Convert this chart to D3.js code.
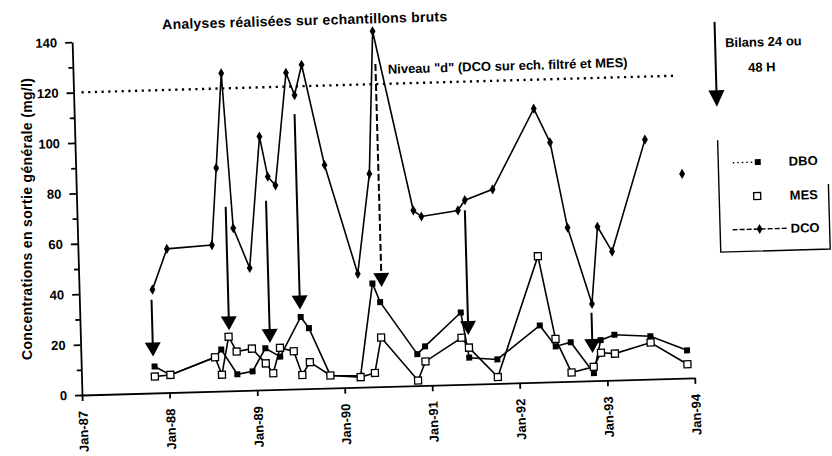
<!DOCTYPE html>
<html>
<head>
<meta charset="utf-8">
<script src="https://cdn.jsdelivr.net/npm/d3@7"></script>
<style>
    body { margin: 0; background: #fff; }
    svg text { font-family: "Liberation Sans", Arial, sans-serif; font-weight: bold; fill: #000; font-size: 13px; }
</style>
</head>
<body>
<div id="chart"></div>
<script>

// sampling campaigns (shared by the three series)
var sampleDates = ["1987-11-03", "1988-01-07", "1988-07-13", "1988-08-09", "1988-09-10", "1988-10-12",
    "1988-12-15", "1989-02-09", "1989-03-11", "1989-04-11", "1989-06-07", "1989-07-10", "1989-08-12",
    "1989-11-04", "1990-03-10", "1990-05-09", "1990-06-08", "1990-11-04", "1990-12-07", "1991-05-09",
    "1991-06-08", "1991-10-03", "1992-04-01", "1992-06-04", "1992-08-06", "1992-11-07", "1992-12-09",
    "1993-02-05", "1993-07-05", "1993-12-03"];

var dbo = [10.5, 7, 13.5, 16.5, null, 6.5, 7.5, 16.5, null, 13, null, 28.5, 24, 5, 4.5, 41, 33.5,
    12.5, 15.5, 28.5, 10.5, 9.5, 22.5, 14, 15.5, 3, 16, 18, 17, 11];
var mes = [6.5, 7, 13.5, 6.5, 21.5, 15.5, 16.5, 10.5, 6.5, 16.5, 15, 5.5, 10.5, 5, 4, 5.5, 19.5,
    2, 9.5, 18.5, 14.5, 2.5, 50, 17, 3.5, 5.5, 11, 10.5, 14.5, 5.5];
var dco = [41, 57, 58, 88.5, 126, 64.5, 48.5, 100.5, 84.5, 81, 125.5, 116.5, 128.5, 88.5, 45, 84.5, 141,
    69.5, 67, 69, 73, 77, 108.5, 95, 61, 30.5, 61, 51, 95, 81];
// DCO line is interrupted before these dates
var dcoBreaks = ["1993-12-03"];

// "Bilans 24 ou 48 H" arrows
var bilanDates = ["1987-10-29", "1988-09-13", "1989-03-01", "1989-07-08", "1990-06-16", "1991-06-07", "1992-11-04"];
var bilanFrom = [37, 73, 75, 109, 128, 69, 27];
var bilanTo = [14.5, 24, 18.5, 31.5, 39.5, 19.5, 11];
var bilanDashed = [false, false, false, false, true, false, false];

// level "d"
var niveauValue = 120;
var niveauFrom = "1987-02-03", niveauTo = "1993-11-23";
var niveauLabel = 'Niveau "d" (DCO sur ech. filtré et MES)';
var niveauLabelAt = ["1990-08-06", 124];

var xTickDates = ["1987-01-01", "1988-01-01", "1989-01-01", "1990-01-01", "1991-01-01", "1992-01-01", "1993-01-01", "1994-01-01"];
var xTickLabels = ["Jan-87", "Jan-88", "Jan-89", "Jan-90", "Jan-91", "Jan-92", "Jan-93", "Jan-94"];
var yTicks = [0, 20, 40, 60, 80, 100, 120, 140];
var yMinorTicks = [10, 30, 50, 70, 90, 110, 130];

var legendLabels = ["DBO", "MES", "DCO"];

var parseDate = d3.timeParse("%Y-%m-%d");

// the scanned page is slightly tilted
var tilt = -1.6;
var origin = {x: 82, y: 395};
var width = 613, height = 353;

var svg = d3.select("#chart").append("svg").attr("width", 832).attr("height", 456);
var page = svg.append("g").attr("transform", "rotate(" + tilt + "," + origin.x + "," + origin.y + ")");
var g = page.append("g").attr("transform", "translate(" + origin.x + "," + (origin.y - height) + ")");

var x = d3.scaleTime()
    .domain([parseDate(xTickDates[0]), parseDate(xTickDates[xTickDates.length - 1])])
    .range([0, width]);
var y = d3.scaleLinear().domain([0, 140]).range([height, 0]);

// level "d" dotted line
g.append("line")
    .attr("x1", x(parseDate(niveauFrom)))
    .attr("x2", x(parseDate(niveauTo)))
    .attr("y1", y(niveauValue))
    .attr("y2", y(niveauValue))
    .attr("stroke", "#000")
    .attr("stroke-width", 2.4)
    .attr("stroke-dasharray", "2.2,4.5");

g.append("text")
    .attr("x", x(parseDate(niveauLabelAt[0])))
    .attr("y", y(niveauLabelAt[1]))
    .text(niveauLabel);

// axes
var yAxis = g.append("g")
    .call(d3.axisLeft(y).tickValues(yTicks).tickSize(7).tickPadding(8).tickSizeOuter(0).tickFormat(d3.format("d")));
var yMinor = g.append("g")
    .call(d3.axisLeft(y).tickValues(yMinorTicks).tickSize(4.5).tickSizeOuter(0).tickFormat(""));
yMinor.select(".domain").remove();

var xAxis = g.append("g")
    .attr("transform", "translate(0," + height + ")")
    .call(d3.axisBottom(x).tickValues(xTickDates.map(parseDate)).tickSize(6).tickSizeOuter(0)
        .tickFormat(function (d, i) { return xTickLabels[i]; }));
xAxis.selectAll("text")
    .attr("transform", "rotate(-90)")
    .attr("text-anchor", "end")
    .attr("x", -16)
    .attr("y", 0)
    .attr("dy", "0.35em");

[yAxis, yMinor, xAxis].forEach(function (a) {
    a.selectAll("path, line").attr("stroke", "#000").attr("stroke-width", 1.8);
    a.selectAll("text").style("font-size", "13px");
});

// series
function points(values) {
    return sampleDates.map(function (d, i) {
        return {date: parseDate(d), value: values[i]};
    }).filter(function (d) { return d.value !== null; });
}

var line = d3.line()
    .x(function (d) { return x(d.date); })
    .y(function (d) { return y(d.value); });

var dboPts = points(dbo), mesPts = points(mes), dcoPts = points(dco);

var dcoSegments = [[]];
dcoPts.forEach(function (d) {
    if (dcoBreaks.indexOf(d3.timeFormat("%Y-%m-%d")(d.date)) >= 0) dcoSegments.push([]);
    dcoSegments[dcoSegments.length - 1].push(d);
});

[dboPts, mesPts].concat(dcoSegments).forEach(function (pts) {
    g.append("path")
        .datum(pts)
        .attr("d", line)
        .attr("fill", "none")
        .attr("stroke", "#000")
        .attr("stroke-width", 1.6);
});

// Bilans arrows
bilanDates.forEach(function (d, i) {
    var ax = x(parseDate(d)), y0 = y(bilanFrom[i]), y1 = y(bilanTo[i]);
    g.append("line")
        .attr("x1", ax).attr("x2", ax)
        .attr("y1", y0).attr("y2", y1 - 12)
        .attr("stroke", "#000")
        .attr("stroke-width", 2)
        .attr("stroke-dasharray", bilanDashed[i] ? "7,3" : null);
    g.append("path")
        .attr("d", "M" + (ax - 8) + "," + (y1 - 14) + "L" + (ax + 8) + "," + (y1 - 14) + "L" + ax + "," + y1 + "Z")
        .attr("fill", "#000");
});

// markers
g.selectAll(".dbo").data(dboPts).enter().append("rect")
    .attr("x", function (d) { return x(d.date) - 3; })
    .attr("y", function (d) { return y(d.value) - 3; })
    .attr("width", 6).attr("height", 6)
    .attr("fill", "#000");

g.selectAll(".mes").data(mesPts).enter().append("rect")
    .attr("x", function (d) { return x(d.date) - 3.5; })
    .attr("y", function (d) { return y(d.value) - 3.5; })
    .attr("width", 7).attr("height", 7)
    .attr("fill", "#fff")
    .attr("stroke", "#000")
    .attr("stroke-width", 1.3);

var diamond = d3.symbol().type(d3.symbolDiamond).size(30);
g.selectAll(".dco").data(dcoPts).enter().append("path")
    .attr("d", diamond)
    .attr("transform", function (d) { return "translate(" + x(d.date) + "," + y(d.value) + ")"; })
    .attr("fill", "#000");

// title
page.append("text")
    .attr("x", 315).attr("y", 31.6)
    .attr("text-anchor", "middle")
    .attr("textLength", 285)
    .style("font-size", "14px")
    .text("Analyses réalisées sur echantillons bruts");

// y label
svg.append("text")
    .attr("transform", "translate(27,219) rotate(-90)")
    .attr("text-anchor", "middle")
    .attr("dy", "0.35em")
    .attr("textLength", 282)
    .style("font-size", "14px")
    .text("Concentrations en sortie générale (mg/l)");

// Bilans legend arrow
page.append("line")
    .attr("x1", 724.7).attr("x2", 724.7)
    .attr("y1", 39.7).attr("y2", 112)
    .attr("stroke", "#000").attr("stroke-width", 2);
page.append("path")
    .attr("d", "M716.7,108L732.7,108L724.7,124.7Z")
    .attr("fill", "#000");
page.append("text").attr("x", 734.7).attr("y", 65.4).text("Bilans 24 ou");
page.append("text").attr("x", 770.8).attr("y", 90.7).attr("text-anchor", "middle").text("48 H");

// legend
var leg = page.append("g");
leg.append("path")
    .attr("d", "M724.5,158V270H834V205")
    .attr("fill", "none")
    .attr("stroke", "#000")
    .attr("stroke-width", 1.4);

var rows = [181, 215, 248];
leg.append("line").attr("x1", 739).attr("x2", 760).attr("y1", rows[0]).attr("y2", rows[0])
    .attr("stroke", "#000").attr("stroke-width", 1.4).attr("stroke-dasharray", "1.5,3");
leg.append("rect").attr("x", 761).attr("y", rows[0] - 3).attr("width", 6).attr("height", 6).attr("fill", "#000");
leg.append("rect").attr("x", 759).attr("y", rows[1] - 3.5).attr("width", 7).attr("height", 7)
    .attr("fill", "#fff").attr("stroke", "#000").attr("stroke-width", 1.3);
leg.append("line").attr("x1", 737).attr("x2", 791).attr("y1", rows[2]).attr("y2", rows[2])
    .attr("stroke", "#000").attr("stroke-width", 1.4).attr("stroke-dasharray", "5,2");
leg.append("path").attr("d", diamond).attr("transform", "translate(764," + rows[2] + ")").attr("fill", "#000");

legendLabels.forEach(function (t, i) {
    leg.append("text").attr("x", 795).attr("y", rows[i]).attr("dy", "0.35em").text(t);
});

</script>
</body>
</html>
